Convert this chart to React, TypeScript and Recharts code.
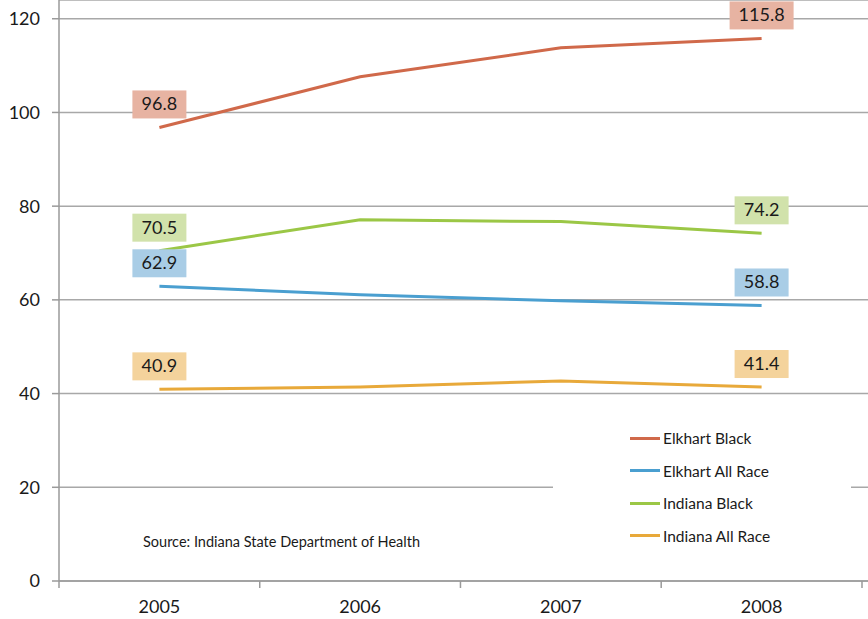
import React from "react"
import { CartesianGrid, Line, LineChart, XAxis, YAxis } from "recharts"

const years = ["2005", "2006", "2007", "2008"]
const elkhartBlack = [96.8, 107.6, 113.8, 115.8]
const elkhartAll = [62.9, 61.1, 59.8, 58.8]
const indianaBlack = [70.5, 77.1, 76.7, 74.2]
const indianaAll = [40.9, 41.4, 42.7, 41.4]
const yTicks = [0, 20, 40, 60, 80, 100, 120]

const series = [
  { key: "elkhartBlack", name: "Elkhart Black", color: "#d0694a", box: "#e7b3a2" },
  { key: "elkhartAll", name: "Elkhart All Race", color: "#4a9fd0", box: "#a9cde6" },
  { key: "indianaBlack", name: "Indiana Black", color: "#9bc746", box: "#d1e2ab" },
  { key: "indianaAll", name: "Indiana All Race", color: "#e8a93a", box: "#f4d39c" },
]

const data = years.map((year, i) => ({
  year,
  elkhartBlack: elkhartBlack[i],
  elkhartAll: elkhartAll[i],
  indianaBlack: indianaBlack[i],
  indianaAll: indianaAll[i],
}))

const FONT = "Lato, 'Open Sans', sans-serif"
const HALF_BAND = 100.4

function makeLabel(fill: string) {
  return (props: any) => {
    const { x, y, value, index } = props
    if (index !== 0 && index !== years.length - 1) return null
    const txt = Number(value).toFixed(1)
    const w = txt.length * 10 + 14
    const h = 28
    const cy = y - 23
    return (
      <g key={`lbl-${index}`}>
        <rect x={x - w / 2} y={cy - h / 2} width={w} height={h} fill={fill} />
        <text x={x} y={cy + 6} textAnchor="middle" fontSize={18} fill="#1a1a1a" fontFamily={FONT}>
          {txt}
        </text>
      </g>
    )
  }
}

// year label in the middle of the band, tick marks on the band edges
function YearTick(props: any) {
  const { x, y, payload, index } = props
  return (
    <g>
      <line x1={x - HALF_BAND} x2={x - HALF_BAND} y1={y - 8} y2={y - 1} stroke="#9a9a9a" strokeWidth={1.5} />
      {index === years.length - 1 && (
        <line x1={x + HALF_BAND} x2={x + HALF_BAND} y1={y - 8} y2={y - 1} stroke="#9a9a9a" strokeWidth={1.5} />
      )}
      <text x={x} y={y + 24} textAnchor="middle" fontSize={18} fill="#1a1a1a" fontFamily={FONT}>
        {payload.value}
      </text>
    </g>
  )
}

function LegendBox() {
  return (
    <div style={{ position: "absolute", left: 553, top: 415, background: "#fff", width: 298, height: 150, fontFamily: FONT }}>
      {series.map((s, i) => (
        <div key={s.key} style={{ position: "absolute", left: 77, top: 13 + i * 32.5, display: "flex", alignItems: "center", height: 20 }}>
          <div style={{ width: 30, height: 3, background: s.color, marginRight: 3 }} />
          <span style={{ fontSize: 15.5, color: "#1a1a1a" }}>{s.name}</span>
        </div>
      ))}
    </div>
  )
}

export default function App() {
  return (
    <div style={{ position: "absolute", left: 0, top: 0, width: 868, height: 619, background: "#fff" }}>
      <LineChart width={868} height={619} data={data} margin={{ top: 0, right: 0, bottom: 0, left: 0 }}>
        <CartesianGrid vertical={false} stroke="#a8a8a8" strokeWidth={1.5} />
        <XAxis
          dataKey="year"
          height={38}
          stroke="#9a9a9a"
          strokeWidth={1.5}
          padding={{ left: HALF_BAND, right: HALF_BAND + 6 }}
          tickLine={false}
          tick={<YearTick />}
          interval={0}
        />
        <YAxis
          domain={[0, 124]}
          ticks={yTicks}
          width={59}
          stroke="#9a9a9a"
          strokeWidth={1.5}
          tickSize={7}
          tick={{ fill: "#1a1a1a", fontSize: 18, fontFamily: FONT, dx: -10 }}
          allowDataOverflow
        />
        {series.map((s) => (
          <Line
            key={s.key}
            type="linear"
            dataKey={s.key}
            name={s.name}
            stroke={s.color}
            strokeWidth={3}
            dot={false}
            activeDot={false}
            isAnimationActive={false}
            label={makeLabel(s.box)}
          />
        ))}
      </LineChart>
      <LegendBox />
      <div style={{ position: "absolute", left: 143, top: 533, fontSize: 14.5, fontFamily: FONT, color: "#1a1a1a" }}>
        Source: Indiana State Department of Health
      </div>
    </div>
  )
}
